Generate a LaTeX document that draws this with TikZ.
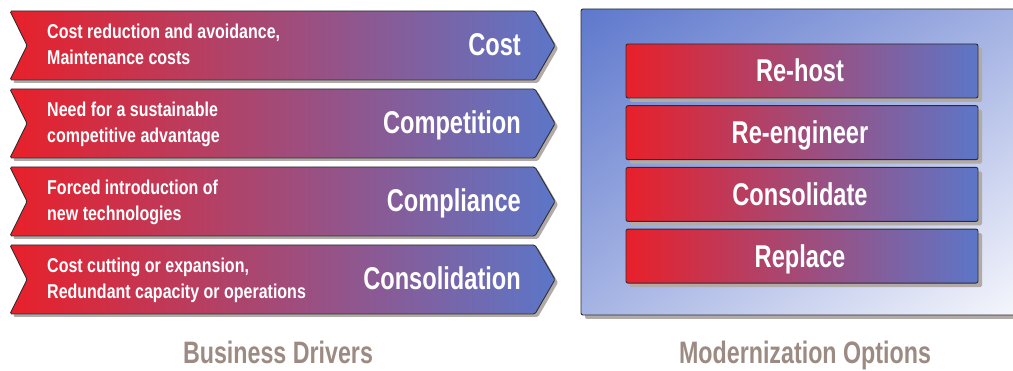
\documentclass[tikz,border=0pt]{standalone}
\usetikzlibrary{shadings}
\usepackage{fontspec}
\newfontfamily\smallcond{Liberation Sans}[FakeStretch=0.8]
\newfontfamily\bigcond{Liberation Sans}[FakeStretch=0.75]
\definecolor{cred}{RGB}{232,32,42}
\definecolor{cblue}{RGB}{92,118,200}
\definecolor{bordc}{RGB}{45,45,50}
\definecolor{shadc}{RGB}{178,170,166}
\definecolor{panelA}{RGB}{94,120,204}
\definecolor{panelM}{RGB}{166,180,228}
\definecolor{panelW}{RGB}{250,250,253}
\definecolor{labc}{RGB}{156,139,130}
\tikzset{
  chevshape/.style={draw=bordc,line width=0.9pt,left color=cred,right color=cblue,rounded corners=1.5pt},
  shadowshape/.style={fill=shadc,rounded corners=1.5pt},
  smalltxt/.style={text=white,font=\smallcond\bfseries\fontsize{20}{26}\selectfont,align=left,inner sep=0pt},
  bigtxt/.style={text=white,font=\bigcond\bfseries\fontsize{31.5}{36}\selectfont,inner sep=0pt},
  labtxt/.style={text=labc,font=\bigcond\bfseries\fontsize{31}{36}\selectfont,inner sep=0pt},
  optbox/.style={draw=bordc,line width=0.9pt,left color=cred,right color=cblue,rounded corners=2pt}
}
\begin{document}
\begin{tikzpicture}[x=1pt,y=-1pt]
\clip (0,0) rectangle (1013,371);
\useasboundingbox (0,0) rectangle (1013,371);
% chevrons
\foreach \i/\sa/\sb/\big in {0/{Cost reduction and avoidance,}/{Maintenance costs}/Cost,
  1/{Need for a sustainable}/{competitive advantage}/Competition,
  2/{Forced introduction of}/{new technologies}/Compliance,
  3/{Cost cutting or expansion,}/{Redundant capacity or operations}/Consolidation}{
  \pgfmathsetmacro{\t}{11+78*\i}
  \pgfmathsetmacro{\b}{\t+69}
  \pgfmathsetmacro{\m}{\t+34.5}
  \fill[shadowshape,shift={(3,3)}] (10,\t) -- (535,\t) -- (555,\m) -- (535,\b) -- (10,\b) -- (27,\m) -- cycle;
  \path[chevshape] (10,\t) -- (535,\t) -- (555,\m) -- (535,\b) -- (10,\b) -- (27,\m) -- cycle;
  \node[smalltxt,anchor=base west] (sa\i) at (47,\m-6.5) {\sa};
  \node[smalltxt,anchor=base west] (sb\i) at (47,\m+19.5) {\sb};
  \node[bigtxt,anchor=base east] (big\i) at (521,\m+10) {\big};
}
% panel
\fill[shadowshape,shift={(4,4)}] (581,9) rectangle (1040,315);
\path[draw=bordc,line width=0.9pt,rounded corners=2pt,upper left=panelA,upper right=panelM,lower left=panelM,lower right=panelW] (581,9) rectangle (1040,315);
\foreach \i/\txt in {0/Re-host,1/Re-engineer,2/Consolidate,3/Replace}{
  \pgfmathsetmacro{\t}{44+61.7*\i}
  \fill[shadowshape,shift={(4,4)}] (626,\t) rectangle (978,\t+54);
  \path[optbox] (626,\t) rectangle (978,\t+54);
  \node[bigtxt,anchor=base] (opt\i) at (800,\t+38) {\txt};
}
\node[labtxt,anchor=base] (lab1) at (278,364) {Business Drivers};
\node[labtxt,anchor=base] (lab2) at (805,364) {Modernization Options};
\end{tikzpicture}
\end{document}
